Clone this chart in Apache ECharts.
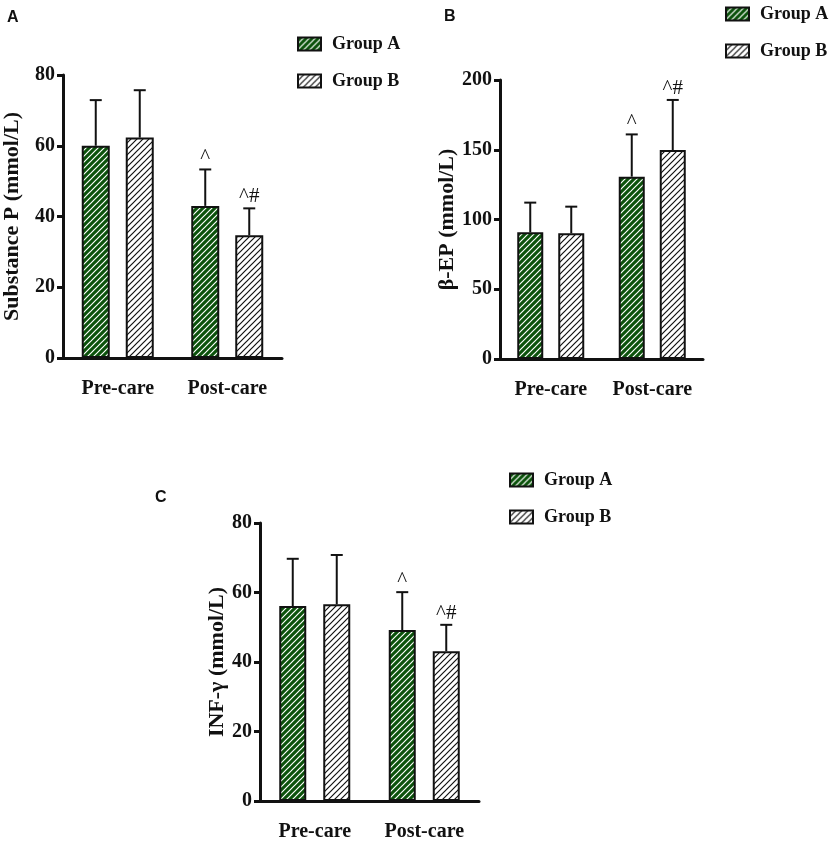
<!DOCTYPE html>
<html>
<head>
<meta charset="utf-8">
<script src="https://cdn.jsdelivr.net/npm/echarts@6/dist/echarts.min.js"></script>
<style>
    html, body { margin: 0; padding: 0; background: #fff; }
    #chart { width: 829px; height: 842px; }
</style>
</head>
<body>
<div id="chart"></div>
<script>
// 数据
let categories = ['Pre-care', 'Post-care'];
let groupNames = ['Group A', 'Group B'];

// Panel A: Substance P
let subPMeanA = [60.0, 43.0];
let subPSdA = [12.9, 10.3];
let subPMeanB = [62.3, 34.7];
let subPSdB = [13.4, 7.6];
let subPMarkA = ['', '^'];
let subPMarkB = ['', '^#'];

// Panel B: β-EP
let betaMeanA = [90.8, 130.7];
let betaSdA = [21.3, 30.3];
let betaMeanB = [90.1, 149.8];
let betaSdB = [19.1, 35.9];
let betaMarkA = ['', '^'];
let betaMarkB = ['', '^#'];

// Panel C: INF-γ
let infMeanA = [56.1, 49.2];
let infSdA = [13.6, 10.9];
let infMeanB = [56.6, 43.1];
let infSdB = [14.2, 7.6];
let infMarkA = ['', '^'];
let infMarkB = ['', '^#'];

let SERIF = '"Liberation Serif", "Times New Roman", serif';

function makeHatch(bg, fg) {
    let c = document.createElement('canvas');
    let s = 6;
    c.width = s;
    c.height = s;
    let ctx = c.getContext('2d');
    ctx.fillStyle = bg;
    ctx.fillRect(0, 0, s, s);
    ctx.strokeStyle = fg;
    ctx.lineWidth = 1.2;
    ctx.beginPath();
    ctx.moveTo(0, s);
    ctx.lineTo(s, 0);
    ctx.moveTo(-s / 2, s / 2);
    ctx.lineTo(s / 2, -s / 2);
    ctx.moveTo(s / 2, s * 1.5);
    ctx.lineTo(s * 1.5, s / 2);
    ctx.stroke();
    return {image: c, repeat: 'repeat'};
}

let hatchA = makeHatch('#0b520b', '#ffffff');
let hatchB = makeHatch('#ffffff', '#111111');

// 面板布局
let panels = [
    {
        grid: {left: 54, top: 75, width: 228, height: 283},
        max: 80, interval: 20, name: 'Substance P (mmol/L)', nameGap: 40,
        barWidth: 28, gap: 16,
        meanA: subPMeanA, sdA: subPSdA, meanB: subPMeanB, sdB: subPSdB,
        markA: subPMarkA, markB: subPMarkB,
        legend: {left: 292, top: 30},
        tag: {text: 'A', x: 7, y: 10}
    },
    {
        grid: {left: 500, top: 80, width: 203, height: 279},
        max: 200, interval: 50, name: 'β-EP (mmol/L)', nameGap: 35,
        barWidth: 26, gap: 15,
        meanA: betaMeanA, sdA: betaSdA, meanB: betaMeanB, sdB: betaSdB,
        markA: betaMarkA, markB: betaMarkB,
        legend: {left: 720, top: 0},
        tag: {text: 'B', x: 444, y: 9}
    },
    {
        grid: {left: 260, top: 523, width: 219, height: 281},
        max: 80, interval: 20, name: 'INF-γ (mmol/L)', nameGap: 32,
        barWidth: 27, gap: 17,
        meanA: infMeanA, sdA: infSdA, meanB: infMeanB, sdB: infSdB,
        markA: infMarkA, markB: infMarkB,
        legend: {left: 504, top: 466},
        tag: {text: 'C', x: 155, y: 490}
    }
];

let grids = [], xAxes = [], yAxes = [], series = [], legends = [], graphics = [];

function errorSeries(idx, means, sds, marks, offset) {
    let data = means.map(function (m, i) {
        return [i, m, m + sds[i]];
    });
    return {
        type: 'custom',
        xAxisIndex: idx,
        yAxisIndex: idx,
        silent: true,
        z: 5,
        data: data,
        renderItem: function (params, api) {
            let base = api.coord([api.value(0), api.value(1)]);
            let top = api.coord([api.value(0), api.value(2)]);
            let x = base[0] + offset;
            let cap = 6;
            let children = [
                {type: 'line', shape: {x1: x, y1: base[1], x2: x, y2: top[1]},
                    style: {stroke: '#111', lineWidth: 2}},
                {type: 'line', shape: {x1: x - cap, y1: top[1], x2: x + cap, y2: top[1]},
                    style: {stroke: '#111', lineWidth: 2}}
            ];
            let mark = marks[params.dataIndex];
            if (mark) {
                children.push({
                    type: 'text',
                    style: {
                        text: mark, x: x, y: top[1] - 1,
                        align: 'center', verticalAlign: 'bottom',
                        font: '21px ' + SERIF, fill: '#111'
                    }
                });
            }
            return {type: 'group', children: children};
        }
    };
}

panels.forEach(function (p, idx) {
    grids.push(p.grid);
    xAxes.push({
        type: 'category',
        gridIndex: idx,
        data: categories,
        axisLine: {lineStyle: {color: '#111', width: 3}},
        axisTick: {alignWithLabel: true, length: 8, lineStyle: {width: 3, color: '#111'}},
        axisLabel: {interval: 0, color: '#111', fontFamily: SERIF, fontWeight: 'bold', fontSize: 20, margin: 21}
    });
    yAxes.push({
        type: 'value',
        gridIndex: idx,
        min: 0,
        max: p.max,
        interval: p.interval,
        name: p.name,
        nameLocation: 'middle',
        nameGap: p.nameGap,
        nameTextStyle: {color: '#111', fontFamily: SERIF, fontWeight: 'bold', fontSize: 22},
        splitLine: {show: false},
        axisLine: {show: true, lineStyle: {color: '#111', width: 3}},
        axisTick: {show: true, length: 6, lineStyle: {width: 3, color: '#111'}},
        axisLabel: {color: '#111', fontFamily: SERIF, fontWeight: 'bold', fontSize: 20, margin: 8}
    });
    let off = (p.barWidth + p.gap) / 2;
    series.push({
        name: groupNames[0],
        type: 'bar',
        xAxisIndex: idx,
        yAxisIndex: idx,
        data: p.meanA,
        barWidth: p.barWidth,
        barGap: (p.gap / p.barWidth * 100) + '%',
        itemStyle: {color: hatchA, borderColor: '#111', borderWidth: 2}
    });
    series.push({
        name: groupNames[1],
        type: 'bar',
        xAxisIndex: idx,
        yAxisIndex: idx,
        data: p.meanB,
        barWidth: p.barWidth,
        barGap: (p.gap / p.barWidth * 100) + '%',
        itemStyle: {color: hatchB, borderColor: '#111', borderWidth: 2}
    });
    series.push(errorSeries(idx, p.meanA, p.sdA, p.markA, -off));
    series.push(errorSeries(idx, p.meanB, p.sdB, p.markB, off));
    legends.push({
        orient: 'vertical',
        left: p.legend.left,
        top: p.legend.top,
        data: groupNames,
        itemWidth: 23,
        itemHeight: 13,
        itemGap: 19,
        selectedMode: false,
        icon: 'rect',
        itemStyle: {borderColor: '#111', borderWidth: 2},
        textStyle: {color: '#111', fontFamily: SERIF, fontWeight: 'bold', fontSize: 18, padding: [0, 0, 0, 6]}
    });
    graphics.push({
        type: 'text',
        left: p.tag.x,
        top: p.tag.y,
        style: {text: p.tag.text, font: 'bold 16px "Liberation Sans", Arial, sans-serif', fill: '#111'}
    });
});

let myChart = echarts.init(document.getElementById('chart'));
let option = {
    animation: false,
    backgroundColor: '#fff',
    grid: grids,
    xAxis: xAxes,
    yAxis: yAxes,
    legend: legends,
    graphic: graphics,
    series: series
};
myChart.setOption(option, true);
</script>
</body>
</html>
